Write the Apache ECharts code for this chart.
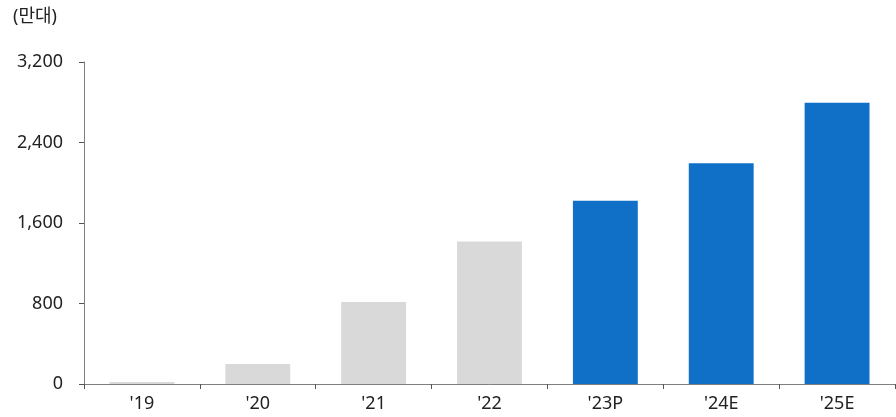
<!DOCTYPE html>
<html>
<head>
<meta charset="utf-8">
<script src="https://cdn.jsdelivr.net/npm/echarts@6/dist/echarts.min.js"></script>
<style>
  html, body { margin: 0; padding: 0; background: #fff; }
  #chart { width: 896px; height: 417px; }
</style>
</head>
<body>
<div id="chart"></div>
<script>
const categories = ["'19", "'20", "'21", "'22", "'23P", "'24E", "'25E"];
const values = [20, 200, 815, 1415, 1820, 2195, 2795];
const isForecast = [false, false, false, false, true, true, true];
const unitLabel = "(만대)";

const FONT = "'Noto Sans', 'Noto Sans CJK KR', sans-serif";
const GRAY = "#d9d9d9";
const BLUE = "#1070c8";

const chart = echarts.init(document.getElementById("chart"));

const options = {
  animation: false,
  grid: { left: 84, right: 1, top: 62, bottom: 33 },
  title: {
    text: unitLabel,
    left: 8,
    top: 3,
    textStyle: { fontFamily: FONT, fontSize: 18, fontWeight: "normal", color: "#222" },
  },
  xAxis: {
    type: "category",
    data: categories,
    axisLine: { lineStyle: { color: "#7f7f7f", width: 1 } },
    axisTick: { show: true, length: 5, lineStyle: { color: "#555" } },
    axisLabel: { fontFamily: FONT, fontSize: 18, color: "#222", margin: 11 },
  },
  yAxis: {
    type: "value",
    min: 0,
    max: 3200,
    interval: 800,
    splitLine: { show: false },
    axisLine: { show: true, lineStyle: { color: "#7f7f7f", width: 1 } },
    axisTick: { show: true, length: 5, lineStyle: { color: "#555" } },
    axisLabel: {
      fontFamily: FONT,
      fontSize: 18,
      color: "#222",
      margin: 21,
      formatter: (v) => v.toLocaleString("en-US"),
    },
  },
  series: [
    {
      type: "bar",
      barWidth: "56%",
      data: values.map((v, i) => ({
        value: v,
        itemStyle: { color: isForecast[i] ? BLUE : GRAY },
      })),
    },
  ],
};

chart.setOption(options);
</script>
</body>
</html>
